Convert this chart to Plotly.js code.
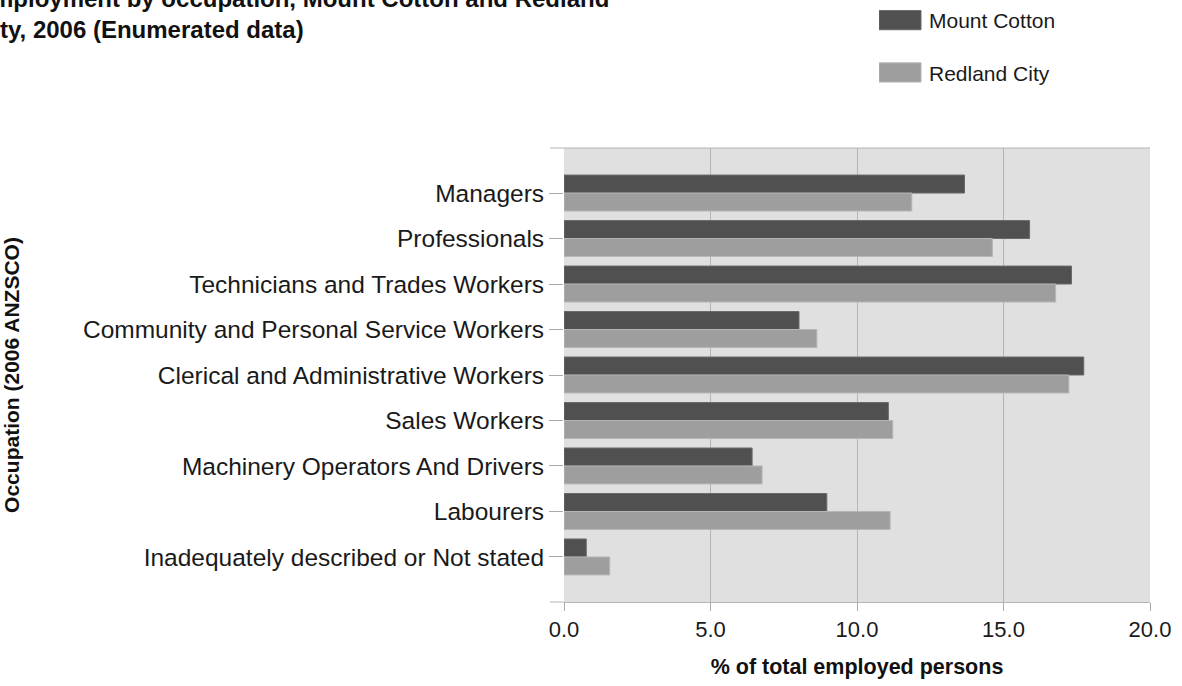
<!DOCTYPE html>
<html>
<head>
<meta charset="utf-8">
<script src="https://cdn.plot.ly/plotly-3.0.1.min.js"></script>
<style>
  html, body { margin: 0; padding: 0; background: #fff; }
  #chart { width: 1182px; height: 686px; }
  .legend .legendpoints path { transform: translate(21px, 0px) scale(3.5, 1.6); vector-effect: non-scaling-stroke; }
  .g-gtitle text { transform: translate(-24px, 7px); }
</style>
</head>
<body>
<div id="chart"></div>
<script>
const categories = [
  "Managers",
  "Professionals",
  "Technicians and Trades Workers",
  "Community and Personal Service Workers",
  "Clerical and Administrative Workers",
  "Sales Workers",
  "Machinery Operators And Drivers",
  "Labourers",
  "Inadequately described or Not stated"
];
const mountCotton = [13.67, 15.89, 17.32, 8.02, 17.74, 11.07, 6.42, 8.97, 0.76];
const redlandCity = [11.87, 14.62, 16.78, 8.63, 17.23, 11.22, 6.76, 11.13, 1.56];
const xTickVals = [0, 5, 10, 15, 20];
const xTickText = ["0.0", "5.0", "10.0", "15.0", "20.0"];

const FONT = '"Liberation Sans", Arial, sans-serif';

const traces = [
  {
    type: 'bar', orientation: 'h', name: 'Mount Cotton',
    y: categories, x: mountCotton,
    marker: { color: '#505050', line: { color: '#6a6a6a', width: 1 } },
    legendgroup: 'a'
  },
  {
    type: 'bar', orientation: 'h', name: 'Redland City',
    y: categories, x: redlandCity,
    marker: { color: '#9e9e9e', line: { color: '#b6b6b6', width: 1 } },
    legendgroup: 'b'
  }
];

const layout = {
  width: 1182, height: 686,
  margin: { l: 564, r: 32, t: 148, b: 84, pad: 0 },
  paper_bgcolor: '#ffffff',
  plot_bgcolor: '#e0e0e0',
  font: { family: FONT, color: '#1a1a1a' },
  title: {
    text: 'Employment by occupation, Mount Cotton and Redland<br>City, 2006 (Enumerated data)',
    font: { family: FONT, size: 24, weight: 'bold', color: '#111' },
    xref: 'container', x: 0, xanchor: 'left',
    yref: 'container', y: 1, yanchor: 'top',
    pad: { t: 0, l: 0, r: 0, b: 0 }
  },
  barmode: 'group',
  bargap: 0.21,
  bargroupgap: 0,
  showlegend: true,
  legend: {
    x: 315 / 586, xref: 'paper', xanchor: 'left',
    y: 1, yref: 'container', yanchor: 'top',
    font: { family: FONT, size: 21, color: '#1a1a1a' },
    traceorder: 'grouped', tracegroupgap: 22,
    itemwidth: 40,
    bgcolor: 'rgba(0,0,0,0)'
  },
  xaxis: {
    range: [0, 20],
    tickvals: xTickVals, ticktext: xTickText,
    ticks: 'outside', ticklen: 8, tickcolor: '#aaaaaa', tickwidth: 1,
    showgrid: true, gridcolor: '#b4b4b4', gridwidth: 1,
    zeroline: false,
    showline: true, linecolor: '#b4b4b4', linewidth: 1,
    tickfont: { family: FONT, size: 22, color: '#1a1a1a' },
    title: {
      text: '% of total employed persons',
      font: { family: FONT, size: 21.5, weight: 'bold', color: '#111' },
      standoff: 17
    },
    fixedrange: true
  },
  yaxis: {
    type: 'category',
    range: [8.99, -0.99],
    ticks: 'outside', ticklen: 14, tickcolor: '#aaaaaa', tickwidth: 1,
    showgrid: false,
    zeroline: false,
    showline: false,
    tickfont: { family: FONT, size: 24.5, color: '#1a1a1a' },
    title: {
      text: 'Occupation (2006 ANZSCO)',
      font: { family: FONT, size: 21, weight: 'bold', color: '#111' },
      standoff: 64
    },
    fixedrange: true
  },
  shapes: [
    { type: 'line', xref: 'paper', yref: 'paper', x0: -14 / 586, x1: 1, y0: 1, y1: 1,
      line: { color: '#b4b4b4', width: 1 } },
    { type: 'line', xref: 'paper', yref: 'paper', x0: -14 / 586, x1: 0, y0: 0, y1: 0,
      line: { color: '#b4b4b4', width: 1 } }
  ]
};

Plotly.newPlot('chart', traces, layout, { displayModeBar: false, staticPlot: true });
</script>
</body>
</html>
